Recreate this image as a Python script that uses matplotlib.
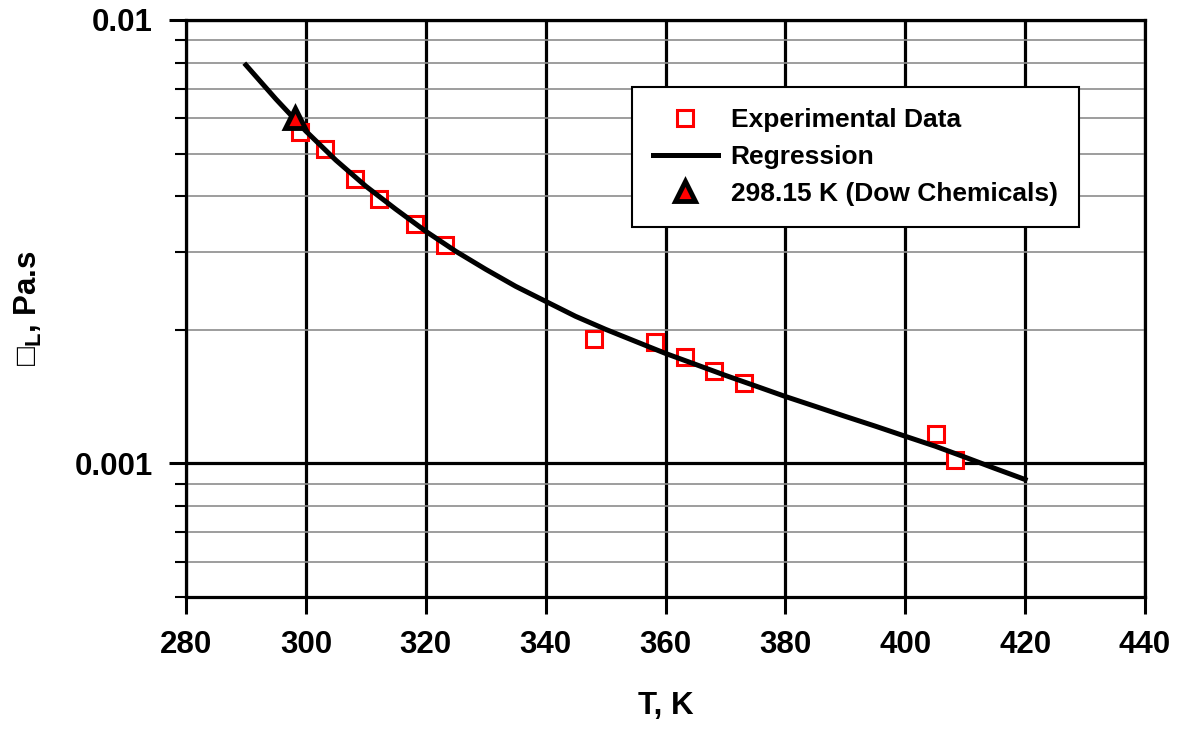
import matplotlib
matplotlib.use("Agg")
import matplotlib.pyplot as plt
from matplotlib.ticker import FixedLocator, FuncFormatter, LogLocator, NullFormatter

plt.rcParams['font.family'] = ['Liberation Sans', 'DejaVu Sans']
plt.rcParams['font.weight'] = 'bold'
plt.rcParams['mathtext.fontset'] = 'custom'
plt.rcParams['mathtext.rm'] = 'Liberation Sans:bold'
plt.rcParams['mathtext.bf'] = 'Liberation Sans:bold'

# measured liquid viscosity
T_exp = [299.0, 303.2, 308.2, 312.2, 318.2, 323.2, 348.1, 358.2, 363.3, 368.1, 373.1, 405.2, 408.3]
mu_exp = [0.005577, 0.005106, 0.004391, 0.003958, 0.003475, 0.003104,
          0.001912, 0.001879, 0.001738, 0.001616, 0.001518, 0.001167, 0.001019]

# regression curve
T_reg = [290, 295, 300, 305, 310, 315, 320, 325, 330, 335, 340, 345, 350, 355,
         360, 365, 370, 375, 380, 385, 390, 395, 400, 405, 410, 415, 420]
mu_reg = [0.007915, 0.006633, 0.005616, 0.004830, 0.004220, 0.003744, 0.003339,
          0.003010, 0.002741, 0.002509, 0.002321, 0.002147, 0.002007, 0.001885,
          0.001771, 0.001673, 0.001580, 0.001496, 0.001416, 0.001345, 0.001277,
          0.001214, 0.001152, 0.001094, 0.001033, 0.0009743, 0.0009202]

# literature value
T_dow = [298.15]
mu_dow = [0.00601]

fig = plt.figure(figsize=(11.8, 7.29), dpi=100)
ax = fig.add_axes([186 / 1180, 1 - 597 / 729, (1145 - 186) / 1180, (597 - 20) / 729])

ax.plot(T_exp, mu_exp, linestyle='none', marker='s', markersize=11, markeredgewidth=2.2,
        markerfacecolor='white', markeredgecolor='#ff0000', label='Experimental Data', zorder=3)
ax.plot(T_reg, mu_reg, color='black', linewidth=3.6, label='Regression', zorder=4,
        solid_joinstyle='round')
ax.plot(T_dow, mu_dow, linestyle='none', marker='^', markersize=15, markeredgewidth=3.5,
        markerfacecolor='#ff0000', markeredgecolor='black', label='298.15 K (Dow Chemicals)', zorder=5)

ax.set_yscale('log')
ax.set_xlim(280, 440)
ax.set_ylim(0.0005, 0.01)

ax.set_xticks(range(280, 441, 20))
ax.yaxis.set_major_locator(FixedLocator([0.001, 0.01]))
ax.yaxis.set_major_formatter(FuncFormatter(lambda v, p: '%g' % v))
ax.yaxis.set_minor_locator(LogLocator(base=10, subs=range(2, 10)))
ax.yaxis.set_minor_formatter(NullFormatter())

ax.grid(True, which='major', axis='both', color='black', linewidth=2.3)
ax.grid(True, which='minor', axis='y', color='#8c8c8c', linewidth=1.2)
ax.set_axisbelow(True)

for s in ax.spines.values():
    s.set_linewidth(2.3)

ax.tick_params(which='major', direction='out', length=12, width=2.2, pad=12, labelsize=22.5)
ax.tick_params(which='minor', direction='out', length=8, width=1.5)
for lbl in ax.get_xticklabels() + ax.get_yticklabels():
    lbl.set_fontweight('bold')

ax.set_xlabel('T, K', fontsize=22.5, fontweight='bold')
ax.xaxis.set_label_coords(0.5, -0.163)
ax.set_ylabel('\u25a1$_{\\mathbf{L}}$, Pa.s', fontsize=22.5, fontweight='bold')
ax.yaxis.set_label_coords(-0.148, 0.5)

leg = ax.legend(loc='upper right', bbox_to_anchor=(0.931, 0.8835), fontsize=19,
                frameon=True, fancybox=False, framealpha=1, edgecolor='black',
                handlelength=2.45, handletextpad=0.5, labelspacing=0.48,
                borderpad=0.8, borderaxespad=0)
leg.get_frame().set_linewidth(1.5)
for t in leg.get_texts():
    t.set_fontweight('bold')

fig.savefig('out.png', dpi=100)
